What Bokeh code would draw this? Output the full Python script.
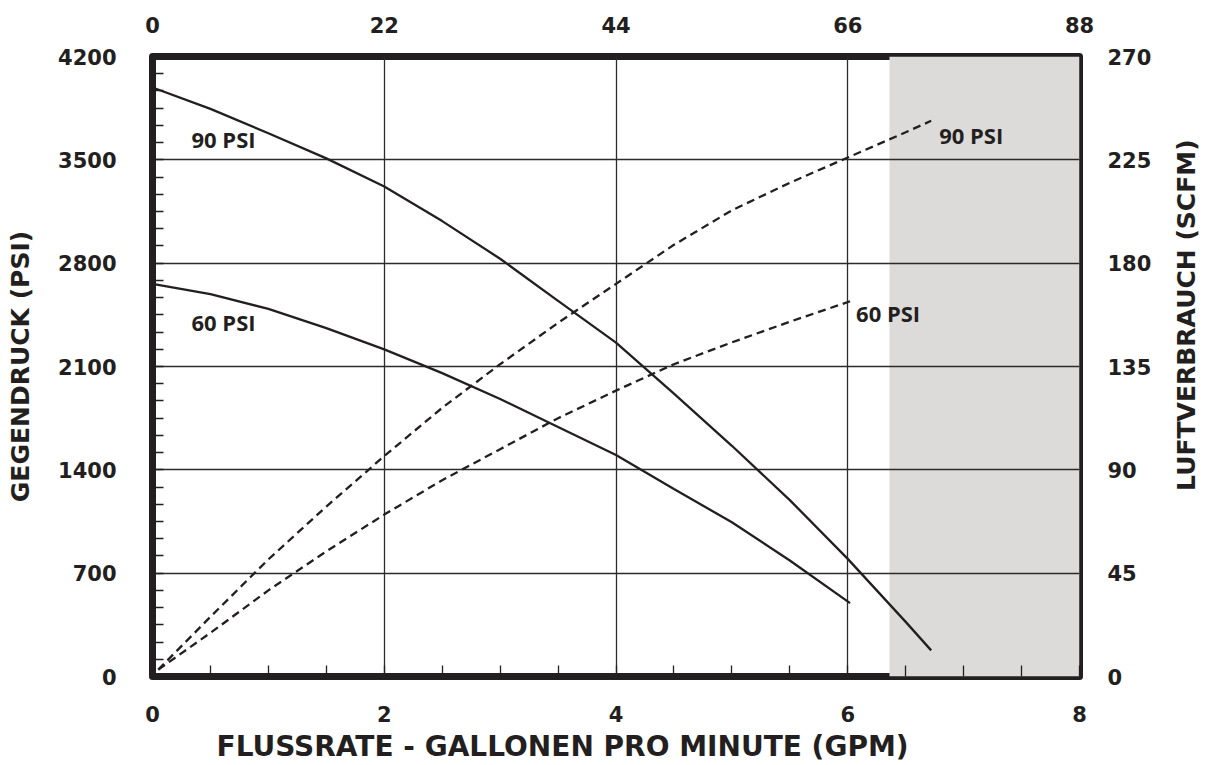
import math
from bokeh.plotting import figure
from bokeh.layouts import row
from bokeh.models import Range1d, LinearAxis, FixedTicker, BoxAnnotation, Title
from bokeh.core.properties import value
from bokeh.embed import file_html
from bokeh.resources import INLINE

INK = "#231f20"

# ---- data ----
gpm_ticks = [0, 2, 4, 6, 8]
gpm_minor = [0, 0.5, 1, 1.5, 2, 2.5, 3, 3.5, 4, 4.5, 5, 5.5, 6, 6.5, 7, 7.5, 8]
psi_ticks = [0, 700, 1400, 2100, 2800, 3500, 4200]
gal_ticks = [0, 22, 44, 66, 88]
scfm_ticks = [0, 45, 90, 135, 180, 225, 270]

# back pressure (PSI), solid curves
gpm_p90 = [0, 0.5, 1, 1.5, 2, 2.5, 3, 3.5, 4, 4.5, 5, 5.5, 6, 6.5, 6.72]
psi_p90 = [3990, 3845, 3680, 3510, 3319, 3085, 2830, 2545, 2262, 1916, 1563, 1195, 797, 370, 177]
gpm_p60 = [0, 0.5, 1, 1.5, 2, 2.5, 3, 3.5, 4, 4.5, 5, 5.5, 6.02]
psi_p60 = [2660, 2590, 2490, 2360, 2216, 2055, 1880, 1690, 1500, 1270, 1045, 786, 497]

# air consumption (SCFM), dashed curves
gpm_a90 = [0.05, 0.5, 1, 1.5, 2, 2.5, 3, 3.5, 4, 4.5, 5, 5.5, 6, 6.5, 6.72]
scfm_a90 = [3, 26, 51, 74, 96, 117, 136, 154, 171, 188, 203, 215, 226, 237, 242]
gpm_a60 = [0.05, 0.5, 1, 1.5, 2, 2.5, 3, 3.5, 4, 4.5, 5, 5.5, 6.02]
scfm_a60 = [3, 19, 37.5, 54.5, 70.5, 85.5, 99, 112.5, 124.5, 136, 145.5, 154.5, 163.4]

shade_start = 6.36
curve_names = ["90 PSI", "60 PSI"]
x_title = "FLUSSRATE - GALLONEN PRO MINUTE (GPM)"
y_title = "GEGENDRUCK (PSI)"
y2_title = "LUFTVERBRAUCH (SCFM)"

# minor ticks on pressure axis: 6 per 700 psi
psi_minor = [i * 700 / 6 for i in range(37)]

W_MAIN, W_SIDE, H = 1154, 56, 765

p = figure(width=W_MAIN, height=H, output_backend="svg", toolbar_location=None,
           x_range=Range1d(0, 8), y_range=Range1d(0, 4200),
           min_border_left=152, min_border_right=70, min_border_top=56,
           min_border_bottom=87, background_fill_color="white",
           border_fill_color="white")
p.extra_x_ranges = {"gal": Range1d(0, 88)}
p.extra_y_ranges = {"scfm": Range1d(0, 270)}

p.outline_line_color = INK
p.outline_line_width = 7
p.outline_line_join = "round"

# shaded area
p.add_layout(BoxAnnotation(left=shade_start, fill_color="#dcdbda", fill_alpha=1.0,
                           line_color=None, level="image"))

def style_axis(ax, standoff):
    ax.axis_line_color = None
    ax.major_tick_line_color = None
    ax.minor_tick_line_color = None
    ax.major_label_text_font = "DejaVu Sans"
    ax.major_label_text_font_style = "bold"
    ax.major_label_text_font_size = "21px"
    ax.major_label_text_color = INK
    ax.major_label_standoff = standoff
    ax.axis_label_text_font = "DejaVu Sans"
    ax.axis_label_text_font_style = "bold"
    ax.axis_label_text_font_size = "25px"
    ax.axis_label_text_color = INK

bx = p.xaxis[0]
bx.ticker = FixedTicker(ticks=gpm_ticks, minor_ticks=gpm_minor)
style_axis(bx, 23)
bx.minor_tick_line_color = INK
bx.minor_tick_line_width = 1.3
bx.minor_tick_in = 11
bx.minor_tick_out = 0

ly = p.yaxis[0]
ly.ticker = FixedTicker(ticks=psi_ticks, minor_ticks=psi_minor)
ly.axis_label = y_title
style_axis(ly, 30)
ly.axis_label_standoff = 20
ly.minor_tick_line_color = INK
ly.minor_tick_line_width = 1.3
ly.minor_tick_in = 11
ly.minor_tick_out = 0

tx = LinearAxis(x_range_name="gal", ticker=FixedTicker(ticks=gal_ticks))
style_axis(tx, 18)
p.add_layout(tx, "above")

ry = LinearAxis(y_range_name="scfm", ticker=FixedTicker(ticks=scfm_ticks))
style_axis(ry, 22)
p.add_layout(ry, "right")

# bottom title as a layout title (left-shifted like the reference)
p.add_layout(Title(text=x_title, align="left", offset=64, standoff=6,
                   text_font="DejaVu Sans", text_font_style="bold",
                   text_font_size="28px", text_color=INK), "below")

p.xgrid.grid_line_color = "#2b2b2b"
p.xgrid.grid_line_width = 1.3
p.ygrid.grid_line_color = "#2b2b2b"
p.ygrid.grid_line_width = 1.3

# curves
p.line(gpm_p90, psi_p90, line_color=INK, line_width=2.3)
p.line(gpm_p60, psi_p60, line_color=INK, line_width=2.3)
p.line(gpm_a90, scfm_a90, line_color=INK, line_width=2.3, line_dash="8 5",
       y_range_name="scfm")
p.line(gpm_a60, scfm_a60, line_color=INK, line_width=2.3, line_dash="8 5",
       y_range_name="scfm")

# curve labels, anchored at curve start (pressure) and curve end (air)
p.text(x=[gpm_p90[0], gpm_p60[0]], y=[psi_p90[0], psi_p60[0]], text=curve_names,
       x_offset=[39, 39], y_offset=[51, 38],
       text_font=value("Open Sans"), text_font_style="bold", text_font_size="22px",
       text_color=INK, text_align="left", text_baseline="middle")
p.text(x=[gpm_a90[-1], gpm_a60[-1]], y=[scfm_a90[-1], scfm_a60[-1]], text=curve_names,
       x_offset=[8, 6], y_offset=[14, 12], y_range_name="scfm",
       text_font=value("Open Sans"), text_font_style="bold", text_font_size="22px",
       text_color=INK, text_align="left", text_baseline="middle")

# right-hand axis title in a narrow side panel (pixel-scaled ranges)
side = figure(width=W_SIDE, height=H, output_backend="svg", toolbar_location=None,
              x_range=Range1d(0, W_SIDE), y_range=Range1d(0, H),
              x_axis_location=None, y_axis_location=None,
              min_border=0, background_fill_color="white", border_fill_color="white")
side.grid.visible = False
side.outline_line_color = None
side.text(x=[32], y=[H - 536], text=[y2_title], angle=math.pi / 2,
          text_font=value("DejaVu Sans"), text_font_style="bold",
          text_font_size="25px", text_color=INK,
          text_align="left", text_baseline="middle")

layout = row(p, side, spacing=0)
open("out.html", "w").write(file_html(layout, INLINE))
